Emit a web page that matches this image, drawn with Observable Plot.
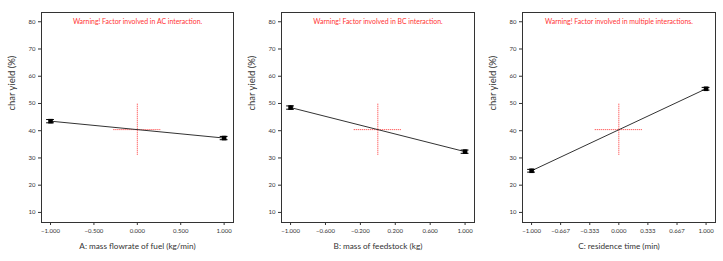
<!DOCTYPE html>
<html><head><meta charset="utf-8">
<script src="https://cdn.jsdelivr.net/npm/d3@7"></script>
<script src="https://cdn.jsdelivr.net/npm/@observablehq/plot@0.6"></script>
<style>
body{margin:0;background:#fff;}
#wrap{display:flex;width:723px;height:261px;}
#wrap svg{display:block;}
</style></head><body>
<div id="wrap"></div>
<script>
// data
const factorLabels = ["A: mass flowrate of fuel (kg/min)", "B: mass of feedstock (kg)", "C: residence time (min)"];
const warnings = ["Warning! Factor involved in AC interaction.", "Warning! Factor involved in BC interaction.", "Warning! Factor involved in multiple interactions."];
const yLabel = "char yield (%)";
const levels = [-1, 1];
const yieldA = [43.5, 37.3];
const yieldB = [48.5, 32.3];
const yieldC = [25.3, 55.4];
const errHalf = [0.6, 0.6, 0.5];
const xTicksA = [-1, -0.5, 0, 0.5, 1];
const xTicksB = [-1, -0.6, -0.2, 0.2, 0.6, 1];
const xTicksC = [-1, -0.667, -0.333, 0, 0.333, 0.667, 1];
const yTicks = [10, 20, 30, 40, 50, 60, 70, 80];
const centerY = 40.4;
const crossYRange = [31, 50];
const crossXRange = [-0.27, 0.27];
const capHalf = 0.045;

const panels = [
  {label: factorLabels[0], warn: warnings[0], vals: yieldA, ticks: xTicksA, err: errHalf[0], ml: 41},
  {label: factorLabels[1], warn: warnings[1], vals: yieldB, ticks: xTicksB, err: errHalf[1], ml: 40},
  {label: factorLabels[2], warn: warnings[2], vals: yieldC, ticks: xTicksC, err: errHalf[2], ml: 40}
];

const font = "Lato, 'Open Sans', sans-serif";
const wrap = document.getElementById("wrap");
panels.forEach((p, i) => {
  const pts = levels.map((x, j) => ({x, y: p.vals[j], lo: p.vals[j] - p.err, hi: p.vals[j] + p.err, xa: x - capHalf, xb: x + capHalf}));
  const chart = Plot.plot({
    width: 241, height: 261,
    marginLeft: p.ml, marginRight: 8, marginTop: 12, marginBottom: 39,
    style: {fontFamily: font, color: "#333", background: "#fff"},
    x: {domain: [-1.104, 1.108]},
    y: {domain: [6.3, 83.4]},
    marks: [
      Plot.axisY({ticks: yTicks, tickSize: 3, tickPadding: 3, fontSize: 6, stroke: "#333", label: null}),
      Plot.axisX({ticks: p.ticks, tickSize: 3, tickPadding: 3, fontSize: 6, tickFormat: d3.format(".3f"), stroke: "#333", label: null}),
      Plot.text([yLabel], {frameAnchor: "left", rotate: -90, dx: -30, dy: -7, fontSize: 9.5, fill: "#333"}),
      Plot.text([p.label], {frameAnchor: "bottom", dy: 26, fontSize: 8.2, fill: "#333"}),
      Plot.ruleX([0], {y1: crossYRange[0], y2: crossYRange[1], stroke: "#ff3030", strokeDasharray: "1,1", strokeWidth: 1}),
      Plot.ruleY([centerY], {x1: crossXRange[0], x2: crossXRange[1], stroke: "#ff3030", strokeDasharray: "1,1", strokeWidth: 1}),
      Plot.line(pts, {x: "x", y: "y", stroke: "#333", strokeWidth: 1}),
      Plot.ruleX(pts, {x: "x", y1: "lo", y2: "hi", stroke: "#000", strokeWidth: 1}),
      Plot.ruleY(pts, {y: "lo", x1: "xa", x2: "xb", stroke: "#000", strokeWidth: 1}),
      Plot.ruleY(pts, {y: "hi", x1: "xa", x2: "xb", stroke: "#000", strokeWidth: 1}),
      Plot.dot(pts, {x: "x", y: "y", symbol: "square", r: 2.6, fill: "#000", stroke: "none"}),
      Plot.text([p.warn], {frameAnchor: "top", dy: 7, fill: "#ff3434", fontSize: 6.9}),
      Plot.frame({stroke: "#333", strokeWidth: 1})
    ]
  });
  wrap.appendChild(chart);
});
</script>
</body></html>
